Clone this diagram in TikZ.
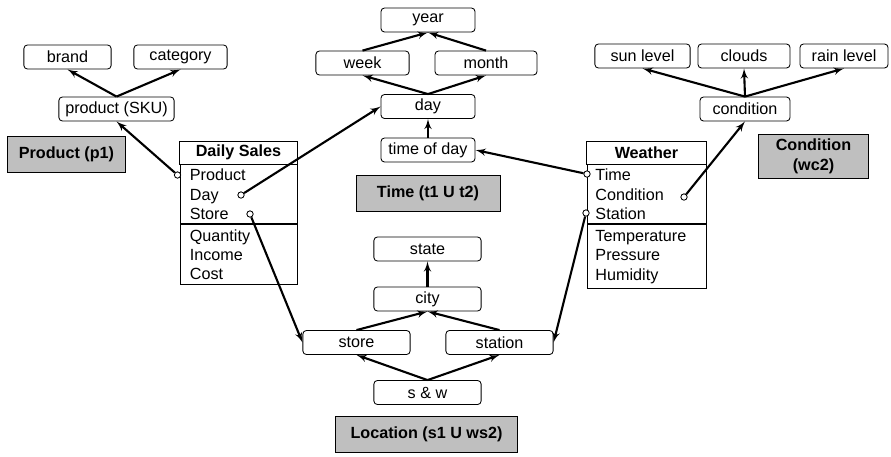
\documentclass[tikz,border=0pt]{standalone}
\usepackage{fontspec}
\setmainfont{Liberation Sans}
\usepackage{tikz}
\usetikzlibrary{shapes,arrows}
\usetikzlibrary{positioning}
\newcommand{\dimfont}{\fontsize{11.5}{13.8}\selectfont\bfseries}
\tikzstyle{level} = [rectangle, draw, rounded corners=2.5pt, minimum height=0.6cm, inner sep=1pt]
\tikzstyle{dim} = [rectangle, draw, fill=black!25, font=\dimfont, minimum height=0.88cm, align=center]
\tikzstyle{head} = [rectangle, draw, font=\dimfont, minimum height=0.575cm, inner sep=1pt]
\tikzstyle{attrs} = [rectangle, draw, align=left, inner xsep=7pt, inner ysep=1pt]
\tikzstyle{port} = [circle, draw, fill=white, inner sep=0pt, minimum size=4.5pt, line width=0.6pt]
\tikzstyle{line} = [draw, -latex', line width=1.5pt]

\begin{document}
\begin{tikzpicture}[x=0.025cm, y=-0.025cm, font=\fontsize{11.5}{13.8}\selectfont, line width=0.6pt]
\useasboundingbox (0,0) rectangle (891,456);
% Product
\node [level, minimum width=2.18cm] (brand) at (67.5,57) {brand};
\node [level, minimum width=2.33cm] (category) at (180.5,57) {category};
\node [level, minimum width=2.88cm] (sku) at (116.5,109) {product (SKU)};
\node [dim, minimum width=2.93cm] (pdim) at (66.5,154.5) {Product (p1)};

% Time
\node [level, minimum width=2.35cm] (year) at (428,20) {year};
\node [level, minimum width=2.33cm] (week) at (362.5,63) {week};
\node [level, minimum width=2.55cm] (month) at (486,63) {month};
\node [level, minimum width=2.35cm] (day) at (428,106.5) {day};
\node [level, minimum width=2.35cm] (tod) at (428,150) {time of day};
\node [dim, minimum width=3.6cm, minimum height=0.9cm] (tdim) at (428,193) {Time (t1 U t2)};

% Condition
\node [level, minimum width=2.38cm] (sun) at (642.5,56) {sun level};
\node [level, minimum width=2.3cm] (clouds) at (744,56) {clouds};
\node [level, minimum width=2.2cm] (rain) at (844,56) {rain level};
\node [level, minimum width=2.25cm] (cond) at (745,109) {condition};
\node [dim, minimum width=2.73cm, minimum height=1.08cm] (cdim) at (813.5,156.5) {Condition\\(wc2)};

% Location
\node [level, minimum width=2.68cm] (state) at (427.5,249) {state};
\node [level, minimum width=2.68cm] (city) at (427.5,299) {city};
\node [level, minimum width=2.68cm] (store) at (356.5,342.5) {store};
\node [level, minimum width=2.68cm] (station) at (499.5,342.5) {station};
\node [level, minimum width=2.68cm] (sw) at (427.5,392.5) {s \& w};
\node [dim, minimum width=4.53cm] (ldim) at (426.5,434.5) {Location (s1 U ws2)};

% Facts
\node [head, minimum width=2.93cm] (dshead) at (238.5,152.5) {Daily Sales};
\node [attrs, text width=2.43cm, minimum height=1.475cm, below=0pt of dshead] (dskeys) {Product\\Day\\Store};
\node [attrs, text width=2.43cm, minimum height=1.5cm, below=0pt of dskeys] (dsmeas) {Quantity\\Income\\Cost};
\node [head, minimum width=2.98cm] (whead) at (646.5,152.5) {Weather};
\node [attrs, inner xsep=6pt, text width=2.55cm, minimum height=1.475cm, below=0pt of whead] (wkeys) {Time\\Condition\\Station};
\node [attrs, inner xsep=6pt, text width=2.55cm, minimum height=1.6cm, below=0pt of wkeys] (wmeas) {Temperature\\Pressure\\Humidity};

% Draw edges
\path [line] (sku.north) -- (brand.south);
\path [line] (sku.north) -- (category.south);
\path [line] (day.north) -- (week.south);
\path [line] (day.north) -- (month.south);
\path [line] (week.north) -- (year.south);
\path [line] (month.north) -- (year.south);
\path [line] (tod) -- (day);
\path [line] (cond.north) -- (sun.south);
\path [line] (cond.north) -- (clouds.south);
\path [line] (cond.north) -- (rain.south);
\path [line] (city) -- (state);
\path [line] (store.north) -- (city.south);
\path [line] (station.north) -- (city.south);
\path [line] (sw.north) -- (store.south);
\path [line] (sw.north) -- (station.south);

% Ports
\node [port] (dsprod) at (177.5,175) {};
\node [port] (dsday) at (241,195) {};
\node [port] (dsstore) at (250,214) {};
\node [port] (wtime) at (587,174) {};
\node [port] (wcond) at (684,197) {};
\node [port] (wstat) at (586,213) {};
\path [line] (dsprod) -- (sku.south);
\path [line] (dsday) -- (day.west);
\path [line] (dsstore) -- (store.west);
\path [line] (wtime) -- (tod.east);
\path [line] (wcond) -- (cond.south);
\path [line] (wstat) -- (station.east);
\end{tikzpicture}
\end{document}
